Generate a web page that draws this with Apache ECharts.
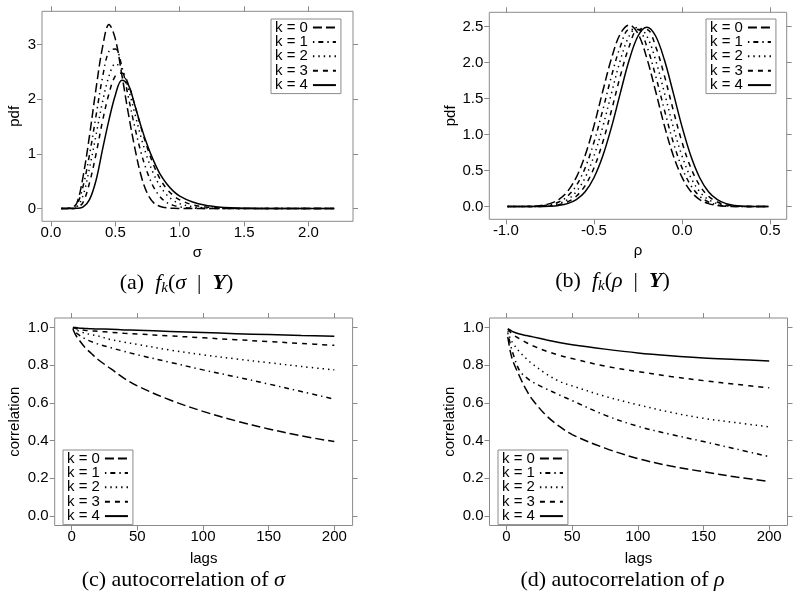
<!DOCTYPE html>
<html>
<head>
<meta charset="utf-8">
<script src="https://cdn.jsdelivr.net/npm/echarts@6/dist/echarts.min.js"></script>
<style>
html,body{margin:0;padding:0;background:#fff;}
#chart{width:800px;height:610px;}
</style>
</head>
<body>
<div id="chart"></div>
<script>
// ---------- data ----------
const legendNames = ['k = 0', 'k = 1', 'k = 2', 'k = 3', 'k = 4'];

// (a) posterior pdf of sigma
const sigmaGrid = [0.08, 0.15, 0.2, 0.25, 0.3, 0.35, 0.4, 0.45, 0.5, 0.55, 0.6, 0.65, 0.7, 0.75, 0.8, 0.85, 0.9, 0.95, 1.0, 1.1, 1.2, 1.3, 1.4, 1.5, 1.6, 1.8, 2.0, 2.2];
const pdfSigmaK0 = [0, 0.01, 0.1, 0.6, 1.35, 2.2, 2.95, 3.37, 3.1, 2.45, 1.75, 1.12, 0.6, 0.27, 0.1, 0.04, 0.015, 0.005, 0.002, 0, 0, 0, 0, 0, 0, 0, 0, 0];
const pdfSigmaK1 = [0, 0.005, 0.07, 0.42, 1.0, 1.7, 2.4, 2.88, 2.92, 2.6, 2.05, 1.5, 1.02, 0.65, 0.38, 0.21, 0.11, 0.06, 0.03, 0.01, 0.003, 0.001, 0, 0, 0, 0, 0, 0];
const pdfSigmaK2 = [0, 0.003, 0.03, 0.25, 0.75, 1.35, 1.95, 2.42, 2.65, 2.55, 2.2, 1.75, 1.3, 0.92, 0.62, 0.4, 0.25, 0.15, 0.09, 0.035, 0.013, 0.005, 0.002, 0, 0, 0, 0, 0];
const pdfSigmaK3 = [0, 0.001, 0.015, 0.12, 0.48, 1.0, 1.6, 2.1, 2.43, 2.48, 2.28, 1.9, 1.48, 1.1, 0.78, 0.53, 0.36, 0.24, 0.16, 0.07, 0.03, 0.013, 0.006, 0.003, 0.001, 0, 0, 0];
const pdfSigmaK4 = [0, 0, 0.005, 0.03, 0.17, 0.52, 1.08, 1.62, 2.08, 2.35, 2.27, 1.9, 1.5, 1.15, 0.86, 0.62, 0.45, 0.32, 0.23, 0.12, 0.06, 0.03, 0.015, 0.008, 0.004, 0.001, 0, 0];

// (b) posterior pdf of rho
const rhoGrid = [-0.99, -0.9, -0.85, -0.8, -0.75, -0.7, -0.65, -0.6, -0.55, -0.5, -0.45, -0.4, -0.35, -0.3, -0.25, -0.2, -0.15, -0.1, -0.05, 0, 0.05, 0.1, 0.15, 0.2, 0.25, 0.3, 0.35, 0.4, 0.45, 0.49];
const pdfRhoK0 = [0, 0.002, 0.005, 0.016, 0.042, 0.098, 0.21, 0.406, 0.71, 1.12, 1.6, 2.06, 2.4, 2.52, 2.4, 2.06, 1.6, 1.12, 0.71, 0.406, 0.21, 0.098, 0.042, 0.016, 0.005, 0.002, 0, 0, 0, 0];
const pdfRhoK1 = [0, 0.001, 0.003, 0.009, 0.026, 0.064, 0.144, 0.292, 0.537, 0.892, 1.338, 1.814, 2.222, 2.459, 2.459, 2.222, 1.814, 1.338, 0.892, 0.537, 0.292, 0.144, 0.064, 0.026, 0.009, 0.003, 0.001, 0, 0, 0];
const pdfRhoK2 = [0, 0.001, 0.002, 0.005, 0.016, 0.041, 0.097, 0.207, 0.401, 0.701, 1.106, 1.578, 2.033, 2.367, 2.49, 2.367, 2.033, 1.578, 1.106, 0.701, 0.401, 0.207, 0.097, 0.041, 0.016, 0.005, 0.002, 0, 0, 0];
const pdfRhoK3 = [0, 0, 0.001, 0.003, 0.009, 0.026, 0.064, 0.144, 0.292, 0.537, 0.892, 1.338, 1.814, 2.222, 2.459, 2.459, 2.222, 1.814, 1.338, 0.892, 0.537, 0.292, 0.144, 0.064, 0.026, 0.009, 0.003, 0.001, 0, 0];
const pdfRhoK4 = [0, 0, 0, 0.002, 0.005, 0.016, 0.041, 0.097, 0.207, 0.401, 0.701, 1.106, 1.578, 2.033, 2.367, 2.49, 2.367, 2.033, 1.578, 1.106, 0.701, 0.401, 0.207, 0.097, 0.041, 0.016, 0.005, 0.002, 0, 0];

// (c) autocorrelation of sigma, (d) autocorrelation of rho
const lags = [1, 3, 5, 10, 15, 20, 30, 40, 50, 75, 100, 125, 150, 175, 200];
const acfSigmaK0 = [0.99, 0.96, 0.94, 0.895, 0.862, 0.83, 0.78, 0.73, 0.69, 0.615, 0.555, 0.505, 0.462, 0.425, 0.395];
const acfSigmaK1 = [0.995, 0.975, 0.963, 0.94, 0.925, 0.912, 0.892, 0.873, 0.855, 0.815, 0.775, 0.738, 0.70, 0.66, 0.62];
const acfSigmaK2 = [1.0, 0.99, 0.982, 0.97, 0.962, 0.955, 0.935, 0.922, 0.91, 0.88, 0.855, 0.833, 0.813, 0.793, 0.775];
const acfSigmaK3 = [1.0, 0.995, 0.99, 0.985, 0.982, 0.979, 0.974, 0.969, 0.965, 0.955, 0.945, 0.935, 0.925, 0.915, 0.905];
const acfSigmaK4 = [1.0, 0.999, 0.997, 0.995, 0.993, 0.992, 0.99, 0.987, 0.985, 0.979, 0.973, 0.967, 0.962, 0.957, 0.953];

const acfRhoK0 = [0.95, 0.87, 0.82, 0.74, 0.67, 0.615, 0.535, 0.477, 0.432, 0.36, 0.305, 0.265, 0.235, 0.207, 0.183];
const acfRhoK1 = [0.97, 0.91, 0.86, 0.77, 0.735, 0.71, 0.675, 0.643, 0.612, 0.535, 0.476, 0.433, 0.395, 0.355, 0.315];
const acfRhoK2 = [0.98, 0.94, 0.915, 0.87, 0.835, 0.805, 0.755, 0.715, 0.69, 0.635, 0.59, 0.55, 0.518, 0.495, 0.473];
const acfRhoK3 = [0.99, 0.975, 0.96, 0.94, 0.92, 0.903, 0.875, 0.853, 0.835, 0.795, 0.766, 0.74, 0.718, 0.698, 0.68];
const acfRhoK4 = [0.993, 0.985, 0.977, 0.965, 0.957, 0.95, 0.935, 0.92, 0.908, 0.885, 0.865, 0.85, 0.838, 0.83, 0.822];

// tick labels
const ticksSigmaX = [0, 0.5, 1.0, 1.5, 2.0];
const ticksSigmaY = [0, 1, 2, 3];
const ticksRhoX = [-1.0, -0.5, 0.0, 0.5];
const ticksRhoY = [0, 0.5, 1.0, 1.5, 2.0, 2.5];
const ticksLags = [0, 50, 100, 150, 200];
const ticksCorr = [0, 0.2, 0.4, 0.6, 0.8, 1.0];

// ---------- styling ----------
const SANS = 'Liberation Sans';
const SERIF = 'Liberation Serif';
const GRAY = '#8a8a8a';
const dashes = [[9, 4], [1.4, 4, 5, 4], [1.4, 4], [5, 5], 'solid'];

const panels = [
  { grid: { left: 42, top: 11.3, width: 311, height: 210 }, xMin: -0.07, xMax: 2.346, yMin: -0.232, yMax: 3.61,
    xTicks: ticksSigmaX, yTicks: ticksSigmaY, xDec: 1, yDec: 0, xName: 'σ', yName: 'pdf', xGap: 24, yGap: 20,
    x: sigmaGrid, ys: [pdfSigmaK0, pdfSigmaK1, pdfSigmaK2, pdfSigmaK3, pdfSigmaK4], legend: { left: 271, top: 19 } },
  { grid: { left: 489.3, top: 12.3, width: 297.4, height: 207 }, xMin: -1.0936, xMax: 0.5936, yMin: -0.176, yMax: 2.696,
    xTicks: ticksRhoX, yTicks: ticksRhoY, xDec: 1, yDec: 1, xName: 'ρ', yName: 'pdf', xGap: 24, yGap: 31,
    x: rhoGrid, ys: [pdfRhoK0, pdfRhoK1, pdfRhoK2, pdfRhoK3, pdfRhoK4], legend: { left: 706, top: 19 } },
  { grid: { left: 54.7, top: 318, width: 297.9, height: 207.5 }, xMin: -12.93, xMax: 213.93, yMin: -0.05, yMax: 1.05,
    xTicks: ticksLags, yTicks: ticksCorr, xDec: 0, yDec: 1, xName: 'lags', yName: 'correlation', xGap: 26, yGap: 32,
    x: lags, ys: [acfSigmaK0, acfSigmaK1, acfSigmaK2, acfSigmaK3, acfSigmaK4], legend: { left: 63, top: 450 } },
  { grid: { left: 489.5, top: 318, width: 298, height: 207.5 }, xMin: -12.93, xMax: 213.93, yMin: -0.05, yMax: 1.05,
    xTicks: ticksLags, yTicks: ticksCorr, xDec: 0, yDec: 1, xName: 'lags', yName: 'correlation', xGap: 26, yGap: 32,
    x: lags, ys: [acfRhoK0, acfRhoK1, acfRhoK2, acfRhoK3, acfRhoK4], legend: { left: 498, top: 450 } }
];

const grids = [], xAxes = [], yAxes = [], series = [], legends = [];

function valAxis(p, gi, isX, main) {
  const ticks = isX ? p.xTicks : p.yTicks;
  const dec = isX ? p.xDec : p.yDec;
  const ax = {
    gridIndex: gi, type: 'value',
    position: isX ? (main ? 'bottom' : 'top') : (main ? 'left' : 'right'),
    min: isX ? p.xMin : p.yMin, max: isX ? p.xMax : p.yMax,
    axisLine: { show: false, onZero: false },
    splitLine: { show: false },
    axisTick: { show: true, inside: false, length: 5, customValues: ticks, lineStyle: { color: GRAY, width: 1 } },
    axisLabel: { show: main, customValues: ticks, formatter: v => Number(v).toFixed(dec),
      fontFamily: SANS, fontSize: 15, color: '#000', margin: isX ? 4 : 6 },
    z: 5
  };
  if (main) {
    ax.name = isX ? p.xName : p.yName;
    ax.nameLocation = 'middle';
    ax.nameGap = isX ? p.xGap : p.yGap;
    ax.nameTextStyle = { fontFamily: SANS, fontSize: 15, color: '#000' };
  }
  return ax;
}

panels.forEach((p, gi) => {
  grids.push(Object.assign({ show: true, borderColor: GRAY, borderWidth: 1, backgroundColor: 'transparent', containLabel: false }, p.grid));
  xAxes.push(valAxis(p, gi, true, true));
  xAxes.push(valAxis(p, gi, true, false));
  yAxes.push(valAxis(p, gi, false, true));
  yAxes.push(valAxis(p, gi, false, false));
  p.ys.forEach((vals, k) => {
    series.push({
      type: 'line', name: legendNames[k], xAxisIndex: 2 * gi, yAxisIndex: 2 * gi,
      data: p.x.map((xv, j) => [xv, vals[j]]),
      symbol: 'none', smooth: 0.35, silent: true, animation: false,
      lineStyle: { color: '#000', width: 1.5, type: dashes[k] },
      itemStyle: { color: '#000' }
    });
  });
  legends.push({
    data: legendNames, orient: 'vertical', align: 'right', left: p.legend.left, top: p.legend.top,
    itemWidth: 23, itemHeight: 10, itemGap: -0.6, padding: [1, 4, 1, 4],
    borderColor: GRAY, borderWidth: 1, borderRadius: 0, backgroundColor: '#fff',
    selectedMode: false,
    itemStyle: { color: 'rgba(0,0,0,0)', borderWidth: 0, borderColor: 'rgba(0,0,0,0)' },
    textStyle: { fontFamily: SANS, fontSize: 15, color: '#000', lineHeight: 14 }
  });
});

const FS = 22;
const richStyle = {
  n: { fontFamily: SERIF, fontSize: FS, lineHeight: 26, fill: '#000' },
  i: { fontFamily: SERIF, fontSize: FS, fontStyle: 'italic', lineHeight: 26, fill: '#000' },
  s: { fontFamily: SERIF, fontSize: 15, fontStyle: 'italic', lineHeight: 15, verticalAlign: 'bottom', fill: '#000' },
  b: { fontFamily: SERIF, fontSize: FS, fontStyle: 'italic', fontWeight: 'bold', lineHeight: 26, fill: '#000' }
};
function caption(x, y, text) {
  return { type: 'text', x: x, y: y, silent: true,
    style: { text: text, rich: richStyle, align: 'center', verticalAlign: 'middle',
      textAlign: 'center', textVerticalAlign: 'middle', fontFamily: SERIF, fontSize: FS, fill: '#000' } };
}

const option = {
  animation: false,
  backgroundColor: '#fff',
  grid: grids, xAxis: xAxes, yAxis: yAxes, series: series, legend: legends,
  graphic: [
    caption(176.5, 283, '{n|(a)  }{i|f}{s|k}{n|(}{i|σ}{n|  |  }{b|Y}{n|)}'),
    caption(612.5, 281, '{n|(b)  }{i|f}{s|k}{n|(}{i|ρ}{n|  |  }{b|Y}{n|)}'),
    caption(183.3, 580, '{n|(c) autocorrelation of }{i|σ}'),
    caption(622.5, 580, '{n|(d) autocorrelation of }{i|ρ}')
  ]
};

const chart = echarts.init(document.getElementById('chart'), null, { renderer: 'canvas' });
chart.setOption(option);
</script>
</body>
</html>
